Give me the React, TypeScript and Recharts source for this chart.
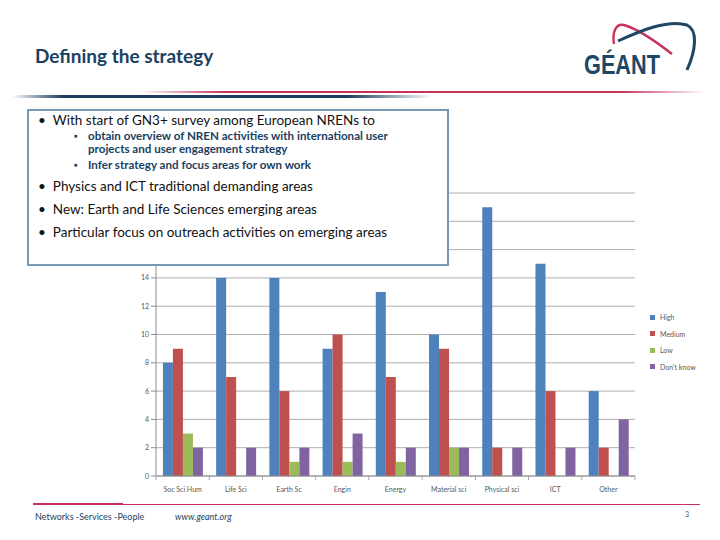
import React from "react";
import { BarChart, Bar, XAxis, YAxis, CartesianGrid, Legend } from "recharts";

const categories = ["Soc Sci Hum", "Life Sci", "Earth Sc", "Engin", "Energy", "Material sci", "Physical sci", "ICT", "Other"];
const highValues = [8, 14, 14, 9, 13, 10, 19, 15, 6];
const mediumValues = [9, 7, 6, 10, 7, 9, 2, 6, 2];
const lowValues = [3, 0, 1, 1, 1, 2, 0, 0, 0];
const dontKnowValues = [2, 2, 2, 3, 2, 2, 2, 2, 4];
const yTicks = [0, 2, 4, 6, 8, 10, 12, 14, 16, 18, 20];
const yLabelMax = 14; // higher tick labels are hidden behind the text box in the reference

const seriesDefs = [
  { key: "high", name: "High", color: "#4F81BD" },
  { key: "medium", name: "Medium", color: "#C0504D" },
  { key: "low", name: "Low", color: "#9BBB59" },
  { key: "dontKnow", name: "Don't know", color: "#8064A2" },
];

const data = categories.map((c, i) => ({
  name: c,
  high: highValues[i],
  medium: mediumValues[i],
  low: lowValues[i],
  dontKnow: dontKnowValues[i],
}));

const W = 720;
const H = 540;
const M = { top: 193, right: 85, bottom: 34, left: 0 };
const Y_W = 156;
const BAND = (W - M.right - Y_W) / categories.length;

const XTick = (props: any) => {
  const { x, y, payload, index } = props;
  return (
    <g>
      <line x1={x - BAND / 2} x2={x - BAND / 2} y1={y - 2} y2={y + 2} stroke="#a6a6a6" />
      {index === categories.length - 1 ? (
        <line x1={x + BAND / 2} x2={x + BAND / 2} y1={y - 2} y2={y + 2} stroke="#a6a6a6" />
      ) : null}
      <text x={x} y={y + 14} textAnchor="middle" fontSize={7} fill="#595959" fontFamily="Lato, sans-serif">
        {payload.value}
      </text>
    </g>
  );
};

const YTick = (props: any) => {
  const { x, y, payload } = props;
  if (payload.value > yLabelMax) return null;
  return (
    <text x={x} y={y} dy={2.5} textAnchor="end" fontSize={7} fill="#595959" fontFamily="Lato, sans-serif">
      {payload.value}
    </text>
  );
};

const LegendContent = () => (
  <div style={{ fontFamily: "Lato, sans-serif", fontSize: 7, color: "#595959" }}>
    {seriesDefs.map((s) => (
      <div key={s.key} style={{ display: "flex", alignItems: "center", height: 16.5 }}>
        <span style={{ display: "inline-block", width: 5, height: 5, background: s.color, marginRight: 5 }} />
        <span>{s.name}</span>
      </div>
    ))}
  </div>
);

const font = "Lato, 'Open Sans', sans-serif";
const navy = "#1b3f5f";

export default function App() {
  return (
    <div style={{ position: "absolute", left: 0, top: 0, width: W, height: H, background: "#fff", overflow: "hidden" }}>
      <BarChart width={W} height={H} data={data} margin={M} barCategoryGap="13%" barGap={0}>
        <CartesianGrid horizontal vertical={false} stroke="#999999" strokeWidth={0.8} />
        <XAxis
          dataKey="name"
          height={30}
          tickLine={false}
          axisLine={{ stroke: "#8c8c8c" }}
          tick={<XTick />}
          interval={0}
          tickSize={0}
        />
        <YAxis
          width={Y_W}
          domain={[0, 20]}
          ticks={yTicks}
          interval={0}
          tickSize={5}
          tickLine={{ stroke: "#8c8c8c" }}
          axisLine={{ stroke: "#8c8c8c" }}
          tick={<YTick />}
        />
        <Legend
          layout="vertical"
          align="center"
          verticalAlign="middle"
          content={<LegendContent />}
          wrapperStyle={{ position: "absolute", left: 650, top: 309, width: 70 }}
        />
        {seriesDefs.map((s) => (
          <Bar key={s.key} dataKey={s.key} name={s.name} fill={s.color} isAnimationActive={false} />
        ))}
      </BarChart>

      {/* Title */}
      <div style={{ position: "absolute", left: 35, top: 44, fontFamily: font, fontWeight: 700, fontSize: 19, color: navy }}>
        Defining the strategy
      </div>

      {/* Logo */}
      <svg style={{ position: "absolute", left: 570, top: 10 }} width={140} height={75}>
        <path d="M 44 34 C 42 22, 46 13, 54 15 C 68 19, 84 30, 102 44" stroke="#c8325a" strokeWidth={2.4} fill="none" />
        <path d="M 48 31 C 70 21, 98 9, 117 15 C 128 20, 126 40, 117 60" stroke="#1d4765" strokeWidth={3} fill="none" />
        <text x={14} y={64} fontFamily="'Liberation Sans', Arial, sans-serif" fontWeight={700} fontSize={28} fill="#1d4765" textLength={76} lengthAdjust="spacingAndGlyphs">
          GÉANT
        </text>
      </svg>

      {/* Header lines */}
      <div style={{ position: "absolute", left: 140, top: 91, width: 565, height: 2, background: "linear-gradient(to right, rgba(200,50,90,0), #c8325a 15%, #c8325a 85%, rgba(200,50,90,0))" }} />
      <div style={{ position: "absolute", left: 12, top: 95, width: 420, height: 3, background: "linear-gradient(to right, rgba(29,63,95,0), #1d3f5f 12%, #1d3f5f 80%, rgba(29,63,95,0))" }} />

      {/* Text box */}
      <div
        style={{
          position: "absolute",
          left: 27,
          top: 109,
          width: 418,
          height: 153,
          border: "2px solid #7799b8",
          background: "#fff",
          fontFamily: font,
          color: "#111",
        }}
      >
        <div style={{ position: "absolute", left: 9, top: 1, fontSize: 13.5, whiteSpace: "nowrap" }}>
          •<span style={{ marginLeft: 7 }}>With start of GN3+ survey among European NRENs to</span>
        </div>
        <div style={{ position: "absolute", left: 45, top: 18, fontSize: 11.6, fontWeight: 700, color: navy, lineHeight: "13px", whiteSpace: "nowrap" }}>
          <span style={{ position: "absolute", left: 0, top: 0, fontSize: 9 }}>▪</span>
          <div style={{ marginLeft: 14 }}>obtain overview of NREN activities with international user</div>
          <div style={{ marginLeft: 14 }}>projects and user engagement strategy</div>
        </div>
        <div style={{ position: "absolute", left: 45, top: 47, fontSize: 11.6, fontWeight: 700, color: navy, lineHeight: "13px", whiteSpace: "nowrap" }}>
          <span style={{ position: "absolute", left: 0, top: 0, fontSize: 9 }}>▪</span>
          <div style={{ marginLeft: 14 }}>Infer strategy and focus areas for own work</div>
        </div>
        {[
          "Physics and ICT traditional demanding areas",
          "New: Earth and Life Sciences emerging areas",
          "Particular focus on outreach activities on emerging areas",
        ].map((t, i) => (
          <div key={t} style={{ position: "absolute", left: 9, top: 67 + i * 23, fontSize: 13.5, whiteSpace: "nowrap" }}>
            •<span style={{ marginLeft: 7 }}>{t}</span>
          </div>
        ))}
      </div>

      {/* Footer */}
      <div style={{ position: "absolute", left: 33, top: 504, width: 667, height: 1, background: "#c8325a" }} />
      <div style={{ position: "absolute", left: 33, top: 503, width: 90, height: 2, background: "#c8325a" }} />
      <div style={{ position: "absolute", left: 35, top: 511, fontFamily: font, fontSize: 9, color: navy, whiteSpace: "nowrap" }}>
        Networks -Services -People
      </div>
      <div style={{ position: "absolute", left: 175, top: 511, fontFamily: font, fontSize: 9, fontStyle: "italic", color: navy, whiteSpace: "nowrap" }}>
        www.geant.org
      </div>
      <div style={{ position: "absolute", left: 685, top: 510, fontFamily: font, fontSize: 7, color: "#555" }}>3</div>
    </div>
  );
}
